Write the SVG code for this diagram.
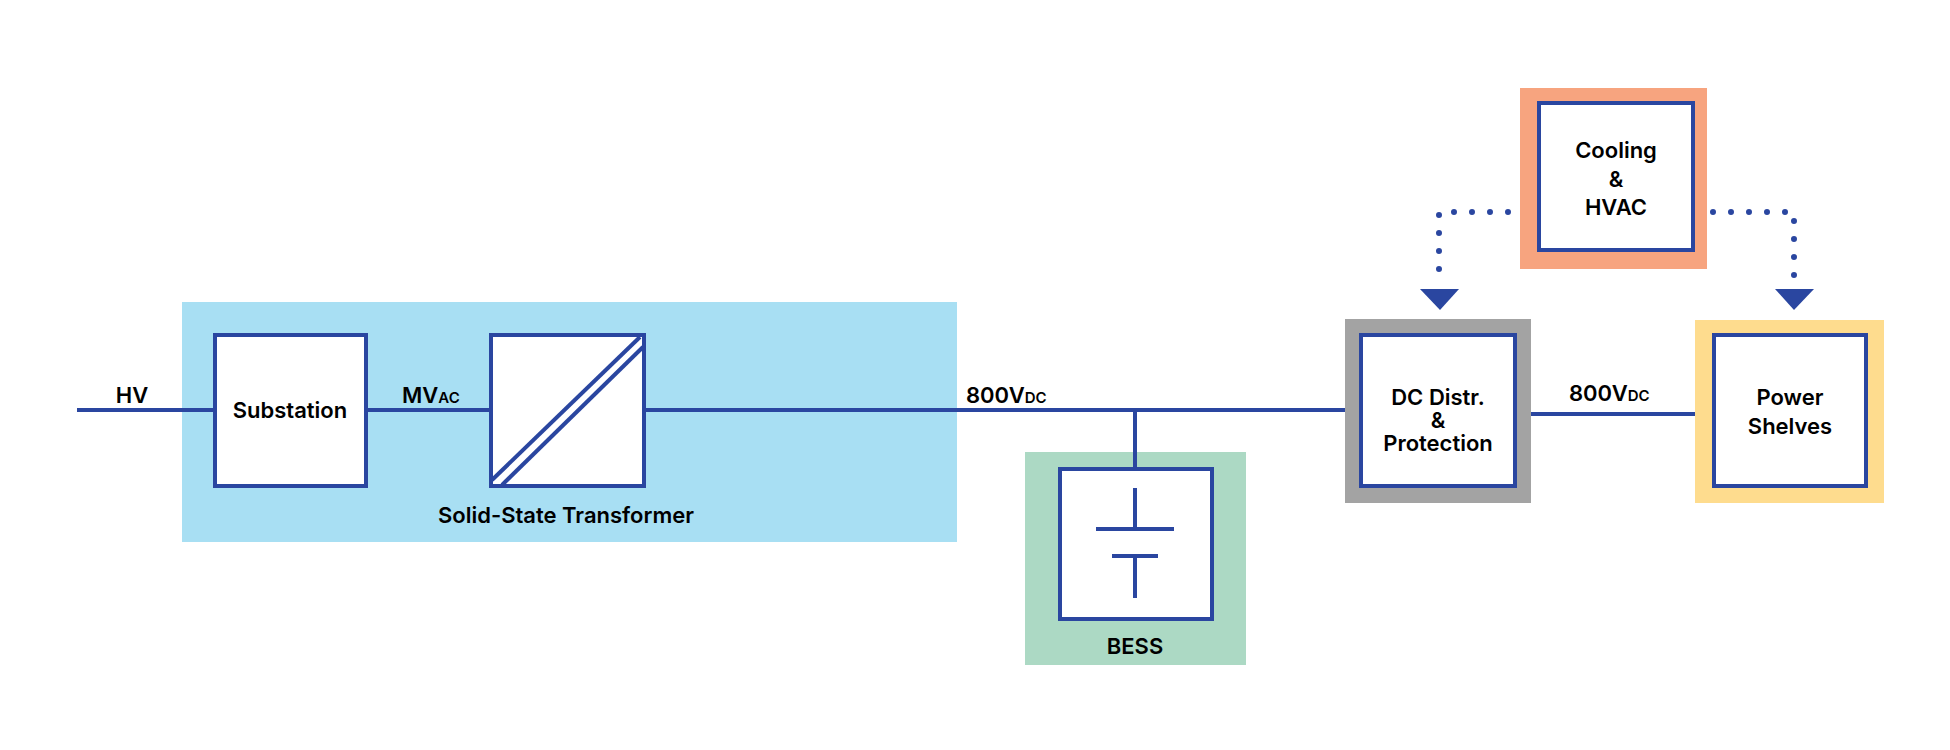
<svg xmlns="http://www.w3.org/2000/svg" width="1950" height="750" viewBox="0 0 1950 750">
<style>
.box{fill:#fff;stroke:#2a46a0;stroke-width:4}
.ln{stroke:#2a46a0;stroke-width:4;fill:none}
.dot{stroke:#2a46a0;stroke-width:6;fill:none;stroke-linecap:round;stroke-dasharray:0 18}
text{font-family:"Inter","Liberation Sans",sans-serif;font-weight:600;font-size:22px;fill:#000;text-anchor:middle}
.sub{font-size:15px}
</style>
<rect width="1950" height="750" fill="#fff"/>
<g id="sst-panel"><rect x="182" y="302" width="775" height="240" fill="#a8dff3"/></g>
<g id="bess-panel"><rect x="1025" y="452" width="221" height="213" fill="#acd9c4"/></g>
<g id="connectors">
<line class="ln" x1="77" y1="410" x2="215" y2="410"/>
<line class="ln" x1="366" y1="410" x2="491" y2="410"/>
<line class="ln" x1="644" y1="410" x2="1348" y2="410"/>
<line class="ln" x1="1135" y1="410" x2="1135" y2="469"/>
<line class="ln" x1="1515" y1="414" x2="1700" y2="414"/>
<path class="dot" d="M1526 212 H1439 V280"/>
<path class="dot" d="M1695 212 H1794 V280"/>
<polygon points="1420,289 1459,289 1440,310" fill="#2a46a0"/>
<polygon points="1775,289 1814,289 1794,310" fill="#2a46a0"/>
</g>
<text x="132" y="403">HV</text>
<text x="402" y="403" text-anchor="start" style="text-anchor:start">MV<tspan class="sub">AC</tspan></text>
<text x="966" y="403" style="text-anchor:start">800V<tspan class="sub">DC</tspan></text>
<text x="1569" y="401" style="text-anchor:start">800V<tspan class="sub">DC</tspan></text>
<g id="substation"><rect class="box" x="215" y="335" width="151" height="151"/><text x="290" y="418">Substation</text></g>
<g id="sst"><rect class="box" x="491" y="335" width="153" height="151"/>
<line class="ln" x1="492" y1="480" x2="640" y2="337"/><line class="ln" x1="502" y1="485" x2="643" y2="347"/>
<text x="566" y="523">Solid-State Transformer</text></g>
<g id="bess"><rect class="box" x="1060" y="469" width="152" height="150"/>
<line class="ln" x1="1135" y1="488" x2="1135" y2="529"/><line class="ln" x1="1096" y1="529" x2="1174" y2="529"/>
<line class="ln" x1="1112" y1="556" x2="1158" y2="556"/><line class="ln" x1="1135" y1="556" x2="1135" y2="598"/>
<text x="1135" y="654">BESS</text></g>
<g id="dc-distr"><rect x="1345" y="319" width="186" height="184" fill="#a3a3a3"/><rect class="box" x="1361" y="335" width="154" height="151"/>
<text x="1438" y="405">DC Distr.</text><text x="1438" y="428">&amp;</text><text x="1438" y="451">Protection</text></g>
<g id="power-shelves"><rect x="1695" y="320" width="189" height="183" fill="#fedc8e"/><rect class="box" x="1714" y="335" width="152" height="151"/>
<text x="1790" y="405">Power</text><text x="1790" y="434">Shelves</text></g>
<g id="cooling"><rect x="1520" y="88" width="187" height="181" fill="#f7a47f"/><rect class="box" x="1539" y="103" width="154" height="147"/>
<text x="1616" y="158">Cooling</text><text x="1616" y="187">&amp;</text><text x="1616" y="215">HVAC</text></g>
</svg>
